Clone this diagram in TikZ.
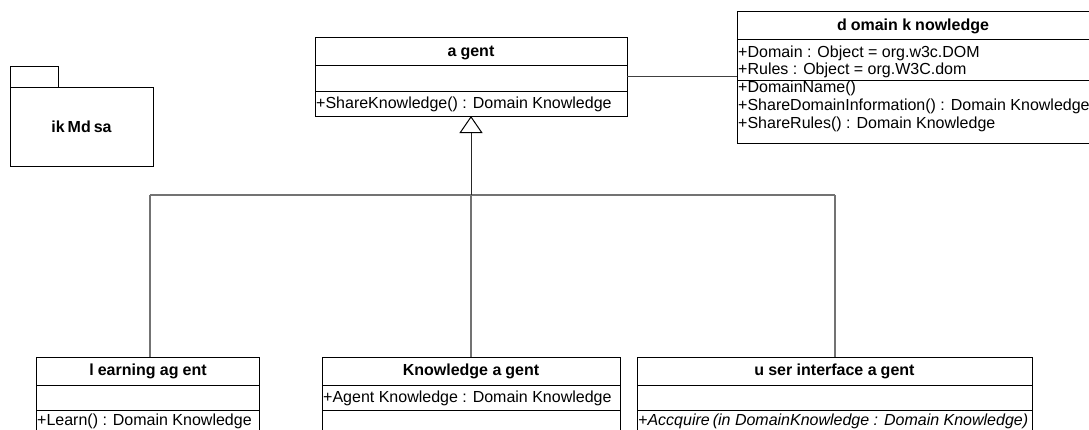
\documentclass[tikz,border=0pt]{standalone}
\usepackage{fontspec}
\setmainfont{Liberation Sans}
\usetikzlibrary{arrows.meta,calc}
\begin{document}
\begin{tikzpicture}[x=1pt,y=-1pt,
  box/.style={draw=black,line width=1pt,fill=white,inner sep=0pt,outer sep=0pt,anchor=north west},
  ttl/.style={font=\fontsize{16}{17.5}\selectfont\bfseries,inner sep=0pt,anchor=base},
  txt/.style={font=\fontsize{16}{17.5}\selectfont,inner sep=0pt,anchor=base west},
  itxt/.style={font=\fontsize{16}{17.5}\selectfont\itshape,inner sep=0pt,anchor=base west},
  sepline/.style={line width=1pt,black},
  trunk/.style={line width=1pt,black!85},
  branch/.style={line width=1.3pt,black!55},
  link/.style={line width=1pt,black!75},
]
\useasboundingbox (0,0) rectangle (1089,429);

% package
\draw[line width=1pt] (10,66) rectangle (58,87);
\node[box,minimum width=143,minimum height=79] (pkg) at (10,87) {};
\node[ttl] (pkgname) at (81.5,132.5) {ik\kern3pt Md\kern3pt sa};

% agent
\node[box,minimum width=312,minimum height=79] (agent) at (315,37) {};
\draw[sepline] (315,65) -- (627,65);
\draw[sepline] (315,91) -- (627,91);
\node[ttl] (agentname) at (471,56.5) {a\kern4pt gent};
\node[txt] (agentop) at (316,108) {+ShareKnowledge() : Domain Knowledge};

% domain knowledge
\node[box,minimum width=353,minimum height=132] (dk) at (737,11) {};
\draw[sepline] (737,39) -- (1090,39);
\draw[sepline] (737,80) -- (1090,80);
\node[ttl] (dkname) at (913,30.5) {d\kern4pt omain k\kern4pt nowledge};
\node[txt] (dka1) at (738,57) {+Domain : Object = org.w3c.DOM};
\node[txt] (dka2) at (738,74.5) {+Rules : Object = org.W3C.dom};
\node[txt] (dko1) at (738,92.5) {+DomainName()};
\node[txt] (dko2) at (738,110) {+ShareDomainInformation() : Domain Knowledge};
\node[txt] (dko3) at (738,128) {+ShareRules() : Domain Knowledge};

% learning agent
\node[box,minimum width=223,minimum height=90] (learn) at (36,357) {};
\draw[sepline] (36,385) -- (259,385);
\draw[sepline] (36,410.5) -- (259,410.5);
\node[ttl] (learnname) at (148,375.5) {l\kern4pt earning ag\kern4pt ent};
\node[txt] (learnop) at (37,425.5) {+Learn() : Domain Knowledge};

% knowledge agent
\node[box,minimum width=298,minimum height=90] (kag) at (322,357) {};
\draw[sepline] (322,385) -- (620,385);
\draw[sepline] (322,410.5) -- (620,410.5);
\node[ttl] (kagname) at (471,375.5) {Knowledge a\kern4pt gent};
\node[txt] (kagattr) at (323,402.5) {+Agent Knowledge : Domain Knowledge};

% user interface agent
\node[box,minimum width=395,minimum height=90] (uia) at (637,357) {};
\draw[sepline] (637,385) -- (1032,385);
\draw[sepline] (637,410.5) -- (1032,410.5);
\node[ttl] (uianame) at (834.5,375.5) {u\kern4pt ser interface a\kern4pt gent};
\node[itxt] (uiaop) at (638,425.5) {+Accquire\kern3pt(in DomainKnowledge : Domain Knowledge)};

% connectors
\coordinate (j) at (471,195);
\coordinate (jl) at (150,195);
\coordinate (jr) at (835,195);
\draw[branch] (jl) -- (jr);
\draw[branch] (jl) -- (jl |- learn.north);
\draw[branch] (j) -- (kag.north);
\draw[branch] (jr) -- (jr |- uia.north);
\draw[trunk,-{Triangle[open,length=17pt,width=23pt,color=black]}] (j) -- (agent.south);
\draw[link] (agent.east) -- (agent.east -| dk.west);
\end{tikzpicture}
\end{document}
